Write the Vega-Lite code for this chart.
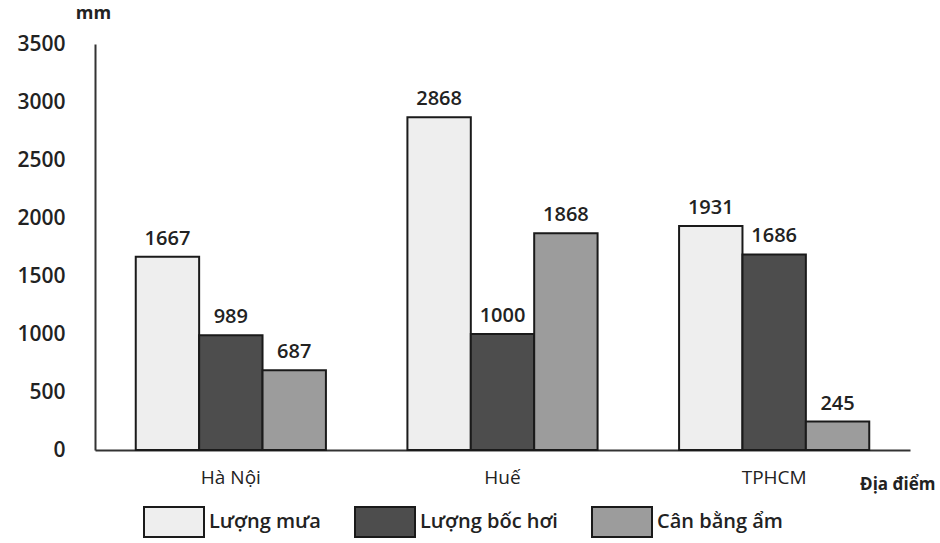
{
  "$schema": "https://vega.github.io/schema/vega-lite/v6.json",
  "width": 815,
  "height": 406,
  "autosize": {"type": "none"},
  "padding": {"left": 95, "top": 44, "right": 30, "bottom": 93},
  "background": "white",
  "config": {
    "view": {"stroke": null},
    "font": "Open Sans",
    "axis": {"labelFont": "Open Sans", "titleFont": "Open Sans"},
    "legend": {"labelFont": "Open Sans"}
  },
  "data": {
    "values": [
      {"place": "Hà Nội", "series": "Lượng mưa", "value": 1667},
      {"place": "Hà Nội", "series": "Lượng bốc hơi", "value": 989},
      {"place": "Hà Nội", "series": "Cân bằng ẩm", "value": 687},
      {"place": "Huế", "series": "Lượng mưa", "value": 2868},
      {"place": "Huế", "series": "Lượng bốc hơi", "value": 1000},
      {"place": "Huế", "series": "Cân bằng ẩm", "value": 1868},
      {"place": "TPHCM", "series": "Lượng mưa", "value": 1931},
      {"place": "TPHCM", "series": "Lượng bốc hơi", "value": 1686},
      {"place": "TPHCM", "series": "Cân bằng ẩm", "value": 245}
    ]
  },
  "encoding": {
    "x": {
      "field": "place",
      "type": "nominal",
      "sort": ["Hà Nội", "Huế", "TPHCM"],
      "scale": {"paddingInner": 0.3, "paddingOuter": 0.15},
      "axis": {
        "title": "Địa điểm",
        "titleFontSize": 17,
        "titleFontWeight": "bold",
        "titleColor": "#222",
        "titleAnchor": "end",
        "titleAlign": "right",
        "titleX": 840,
        "titleY": 26,
        "labelAngle": 0,
        "labelFontSize": 19,
        "labelColor": "#222",
        "labelPadding": 18,
        "ticks": false,
        "domainColor": "#333",
        "domainWidth": 2
      }
    },
    "xOffset": {
      "field": "series",
      "type": "nominal",
      "sort": ["Lượng mưa", "Lượng bốc hơi", "Cân bằng ẩm"],
      "scale": {"paddingInner": 0, "paddingOuter": 0}
    },
    "y": {
      "field": "value",
      "type": "quantitative",
      "scale": {"domain": [0, 3500], "nice": false},
      "axis": {
        "title": "mm",
        "titleAngle": 0,
        "titleFontSize": 18,
        "titleFontWeight": "bold",
        "titleColor": "#222",
        "titleX": -2,
        "titleY": -22,
        "titleAlign": "center",
        "values": [0, 500, 1000, 1500, 2000, 2500, 3000, 3500],
        "format": "d",
        "labelFontSize": 21,
        "labelFontWeight": 600,
        "labelColor": "#222",
        "labelPadding": 30,
        "ticks": false,
        "grid": false,
        "domainColor": "#333",
        "domainWidth": 2
      }
    }
  },
  "layer": [
    {
      "mark": {"type": "bar", "stroke": "#1a1a1a", "strokeWidth": 2},
      "encoding": {
        "color": {
          "field": "series",
          "type": "nominal",
          "sort": ["Lượng mưa", "Lượng bốc hơi", "Cân bằng ẩm"],
          "scale": {
            "domain": ["Lượng mưa", "Lượng bốc hơi", "Cân bằng ẩm"],
            "range": ["#eeeeee", "#4d4d4d", "#9c9c9c"]
          },
          "legend": {
            "title": null,
            "orient": "none",
            "legendX": 48,
            "legendY": 447,
            "direction": "horizontal",
            "symbolType": "M-1,-0.5H1V0.5H-1Z",
            "symbolSize": 3600,
            "symbolStrokeColor": "#1a1a1a",
            "symbolStrokeWidth": 2,
            "symbolOpacity": 1,
            "labelFontSize": 20,
            "labelFontWeight": 600,
            "labelColor": "#222",
            "labelOffset": 4,
            "columnPadding": 30
          }
        }
      }
    },
    {
      "mark": {"type": "text", "baseline": "bottom", "dy": -8, "fontSize": 20, "fontWeight": 600, "color": "#222"},
      "encoding": {"text": {"field": "value", "type": "quantitative", "format": "d"}}
    }
  ]
}
